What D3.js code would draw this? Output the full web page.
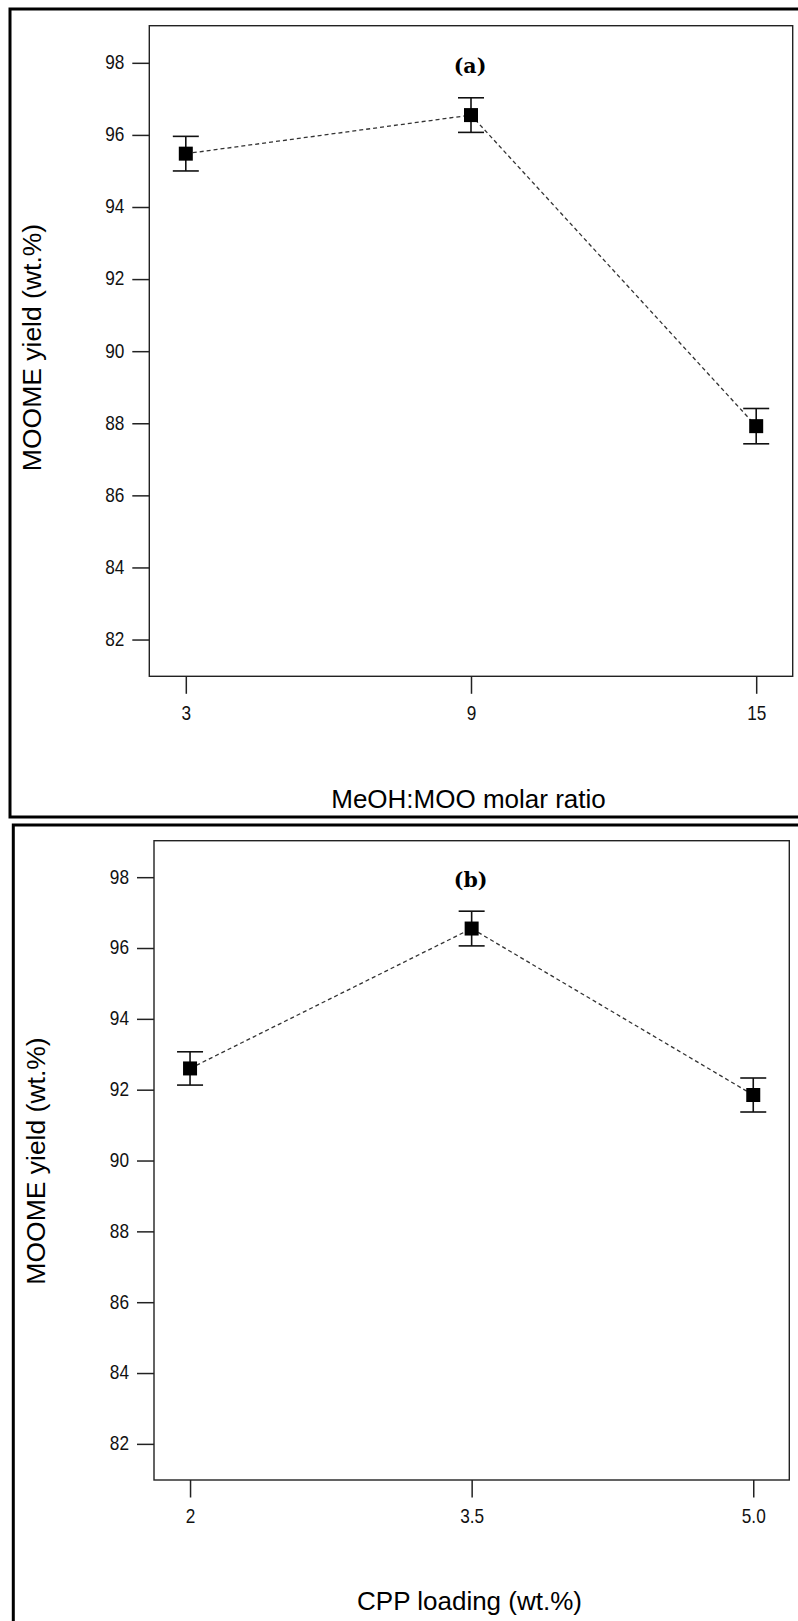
<!DOCTYPE html>
<html>
<head>
<meta charset="utf-8">
<script src="https://cdn.jsdelivr.net/npm/d3@7"></script>
<style>
    html, body { margin: 0; padding: 0; background: #fff; }
    svg { display: block; }
</style>
</head>
<body>
<div id="chart"></div>
<script>
// Data
const ratioLevels = ["3", "9", "15"];
const ratioYield = [95.48, 96.55, 87.92];
const ratioError = [0.48, 0.48, 0.49];

const loadingLevels = ["2", "3.5", "5.0"];
const loadingYield = [92.6, 96.55, 91.85];
const loadingError = [0.47, 0.49, 0.48];

const yTicks = [82, 84, 86, 88, 90, 92, 94, 96, 98];
const yDomain = [80.98, 99.03];

const yTitle = "MOOME yield (wt.%)";

const svg = d3.select("#chart")
    .append("svg")
    .attr("width", 798)
    .attr("height", 1621);

// Outer borders of the two sub-figures (cut off at the right / bottom)
svg.append("rect")
    .attr("x", 10).attr("y", 9)
    .attr("width", 820).attr("height", 808)
    .attr("fill", "none").attr("stroke", "#000").attr("stroke-width", 3);

svg.append("rect")
    .attr("x", 13.3).attr("y", 825)
    .attr("width", 820).attr("height", 900)
    .attr("fill", "none").attr("stroke", "#000").attr("stroke-width", 3);

// Function to draw one main-effect panel
function drawPanel(p) {
    const g = svg.append("g")
        .attr("transform", `translate(${p.left},${p.top})`);

    const x = d3.scalePoint()
        .domain(p.levels)
        .range([0, p.width])
        .padding(0.128);

    const y = d3.scaleLinear()
        .domain(yDomain)
        .range([p.height, 0]);

    // Plot frame
    g.append("rect")
        .attr("width", p.width)
        .attr("height", p.height)
        .attr("fill", "none")
        .attr("stroke", "#222")
        .attr("stroke-width", 1.4);

    // Y axis
    const yAxis = g.append("g")
        .call(d3.axisLeft(y).tickValues(yTicks).tickSize(17).tickPadding(8).tickFormat(d3.format("d")));
    yAxis.select(".domain").remove();
    yAxis.selectAll(".tick line").attr("stroke", "#222").attr("stroke-width", 1.5);
    yAxis.selectAll(".tick text")
        .attr("x", -25 / 0.82)
        .attr("dy", "0.28em")
        .attr("transform", "scale(0.82,1)")
        .style("font-family", "'Liberation Sans', Arial, sans-serif")
        .style("font-size", "21px")
        .attr("fill", "#111");

    // X axis
    const xAxis = g.append("g")
        .attr("transform", `translate(0,${p.height})`)
        .call(d3.axisBottom(x).tickSize(17.5).tickPadding(11));
    xAxis.select(".domain").remove();
    xAxis.selectAll(".tick line").attr("stroke", "#222").attr("stroke-width", 1.5);
    xAxis.selectAll(".tick text")
        .attr("transform", "scale(0.82,1)")
        .style("font-family", "'Liberation Sans', Arial, sans-serif")
        .style("font-size", "21px")
        .attr("fill", "#111");

    const pts = p.levels.map((d, i) => ({ level: d, value: p.values[i], err: p.errors[i] }));

    // Dashed connecting line
    g.append("path")
        .datum(pts)
        .attr("fill", "none")
        .attr("stroke", "#333")
        .attr("stroke-width", 1.3)
        .attr("stroke-dasharray", "4,3")
        .attr("d", d3.line().x(d => x(d.level)).y(d => y(d.value)));

    // Error bars
    const bars = g.selectAll(".errbar")
        .data(pts)
        .enter().append("g")
        .attr("class", "errbar")
        .attr("stroke", "#111")
        .attr("stroke-width", 1.6);

    bars.append("line")
        .attr("x1", d => x(d.level)).attr("x2", d => x(d.level))
        .attr("y1", d => y(d.value + d.err)).attr("y2", d => y(d.value - d.err));
    bars.append("line")
        .attr("x1", d => x(d.level) - 13).attr("x2", d => x(d.level) + 13)
        .attr("y1", d => y(d.value + d.err)).attr("y2", d => y(d.value + d.err));
    bars.append("line")
        .attr("x1", d => x(d.level) - 13).attr("x2", d => x(d.level) + 13)
        .attr("y1", d => y(d.value - d.err)).attr("y2", d => y(d.value - d.err));

    // Square markers
    g.selectAll(".marker")
        .data(pts)
        .enter().append("rect")
        .attr("class", "marker")
        .attr("x", d => x(d.level) - 7)
        .attr("y", d => y(d.value) - 7)
        .attr("width", 14)
        .attr("height", 14)
        .attr("fill", "#000");

    // Panel letter
    g.append("text")
        .attr("x", p.width / 2 - 1)
        .attr("y", p.letterY)
        .attr("text-anchor", "middle")
        .style("font-family", "'DejaVu Serif', serif")
        .style("font-weight", "bold")
        .style("font-size", "20.5px")
        .text(p.letter);

    // Axis titles
    svg.append("text")
        .attr("x", p.xTitleX)
        .attr("y", p.xTitleY)
        .attr("text-anchor", "middle")
        .style("font-family", "'Liberation Sans', Arial, sans-serif")
        .style("font-size", "26px")
        .attr("fill", "#000")
        .text(p.xTitle);

    svg.append("text")
        .attr("transform", `translate(${p.yTitleX},${p.yTitleY}) rotate(-90)`)
        .attr("text-anchor", "middle")
        .style("font-family", "'Liberation Sans', Arial, sans-serif")
        .style("font-size", "26.5px")
        .attr("fill", "#000")
        .text(yTitle);
}

drawPanel({
    left: 149.3, top: 25.7, width: 643.4, height: 650.6,
    levels: ratioLevels, values: ratioYield, errors: ratioError,
    letter: "(a)", letterY: 47.5,
    xTitle: "MeOH:MOO molar ratio", xTitleX: 468.5, xTitleY: 808,
    yTitleX: 41, yTitleY: 347.5
});

drawPanel({
    left: 154, top: 840.7, width: 635.3, height: 639.3,
    levels: loadingLevels, values: loadingYield, errors: loadingError,
    letter: "(b)", letterY: 46,
    xTitle: "CPP loading (wt.%)", xTitleX: 469.5, xTitleY: 1610,
    yTitleX: 44.5, yTitleY: 1161
});
</script>
</body>
</html>
